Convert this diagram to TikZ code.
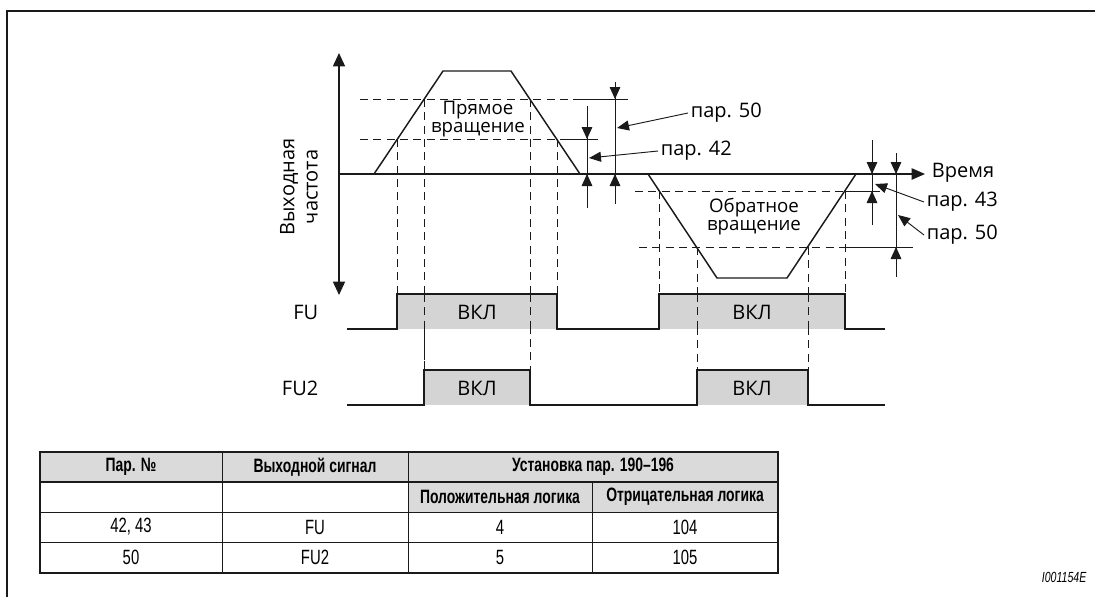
\documentclass[tikz,border=0pt]{standalone}
\usepackage{fontspec}
\setmainfont{Open Sans}
\newfontfamily\condfont[FakeStretch=0.72]{Liberation Sans}
\usetikzlibrary{arrows.meta}
\definecolor{ink}{HTML}{1A1A1A}
\definecolor{onfill}{HTML}{D4D4D4}
\definecolor{headfill}{HTML}{DADADA}

\begin{document}
\begin{tikzpicture}[
  x=0.75pt, y=-0.75pt,
  font=\fontsize{15}{14.5}\selectfont,
  frame/.style  = {draw=ink, line width=1.5pt},
  axis/.style   = {draw=ink, line width=1.1pt},
  tip/.style    = {-{Triangle[length=10pt,width=8.5pt]}},
  wave/.style   = {draw=ink, line width=1.1pt, line join=miter},
  guide/.style  = {draw=ink, line width=0.7pt, dash pattern=on 6pt off 4pt},
  dimln/.style  = {draw=ink, line width=0.7pt},
  dimarr/.style = {dimln, -{Triangle[length=9pt,width=8pt]}},
  lead/.style   = {dimln, -{Triangle[length=9pt,width=7.5pt]}},
  lbl/.style    = {anchor=west, inner sep=2pt},
  dirlbl/.style = {align=center, inner sep=0pt, font=\fontsize{14}{13.5}\selectfont},
  cell/.style   = {font=\condfont\fontsize{15.5}{16}\selectfont},
  hcell/.style  = {font=\condfont\bfseries\fontsize{14.5}{16}\selectfont},
]
\useasboundingbox (0,0) rectangle (1095,597);

% ---------- frame ----------
\draw[frame] (7,597) -- (7,11) -- (1095,11);

% ---------- axes ----------
\draw[axis, {Triangle[length=10pt,width=9pt]}-{Triangle[length=10pt,width=9pt]}] (339,295) -- (339,53);
\draw[axis, tip] (339,174) -- (925,174);
\node[rotate=90, align=center] (ylab) at (299,187) {Выходная\\[3pt]частота};
\node[lbl] (time) at (929,173) {Время};

% ---------- guide levels ----------
\draw[guide] (360,99) -- (575,99);
\draw[dimln] (575,99) -- (628,99);
\draw[guide] (360,139) -- (565,139);
\draw[dimln] (565,139) -- (598,139);
\draw[guide] (635,191) -- (845,191);
\draw[dimln] (845,191) -- (880,191);
\draw[guide] (639,247) -- (845,247);
\draw[dimln] (845,247) -- (913,247);

% ---------- output frequency ----------
\draw[wave] (374,174) -- (443,71) -- (511,71) -- (580,174);
\draw[wave] (648,174) -- (717,278) -- (787,278) -- (856,174);
\node[dirlbl] (fwd) at (478,119) {Прямое\\вращение};
\node[dirlbl] (rev) at (754,217) {Обратное\\вращение};

% ---------- switching points ----------
\draw[guide] (397,139) -- (397,294);
\draw[guide] (557,139) -- (557,294);
\draw[guide] (424,99) -- (424,370);
\draw[guide] (530,99) -- (530,370);
\draw[guide] (659,191) -- (659,294);
\draw[guide] (845,191) -- (845,294);
\draw[guide] (697,247) -- (697,370);
\draw[guide] (808,247) -- (808,370);

% ---------- FU / FU2 signals ----------
\fill[onfill] (397,294) rectangle (557,329);
\fill[onfill] (659,294) rectangle (845,329);
\fill[onfill] (424,370) rectangle (530,405);
\fill[onfill] (697,370) rectangle (808,405);
\draw[guide] (424,294) -- (424,370);
\draw[guide] (530,294) -- (530,329);
\draw[guide] (697,294) -- (697,329);
\draw[guide] (808,294) -- (808,329);
\draw[wave] (347,329) -- (397,329) -- (397,294) -- (557,294) -- (557,329)
  -- (659,329) -- (659,294) -- (845,294) -- (845,329) -- (885,329);
\draw[wave] (347,405) -- (424,405) -- (424,370) -- (530,370) -- (530,405)
  -- (697,405) -- (697,370) -- (808,370) -- (808,405) -- (885,405);
\node[anchor=east] (fu) at (323,312) {FU};
\node[anchor=east] (fu2) at (323,388) {FU2};
\node (on1) at (477,312) {ВКЛ};
\node (on2) at (752,312) {ВКЛ};
\node (on3) at (477,388) {ВКЛ};
\node (on4) at (752,388) {ВКЛ};

% ---------- dimension arrows ----------
\draw[dimln] (587,106) -- (587,208);
\draw[dimarr] (587,112) -- (587,139);
\draw[dimarr] (587,202) -- (587,174);
\draw[dimln] (615,82) -- (615,204);
\draw[dimarr] (615,84) -- (615,99);
\draw[dimarr] (615,198) -- (615,174);
\draw[dimln] (872,140) -- (872,225);
\draw[dimarr] (872,150) -- (872,174);
\draw[dimarr] (872,215) -- (872,191);
\draw[dimln] (896,153) -- (896,277);
\draw[dimarr] (896,155) -- (896,174);
\draw[dimarr] (896,271) -- (896,247);

\coordinate (t50a) at (617,128);
\coordinate (t42) at (589,158);
\coordinate (t43) at (875,184);
\coordinate (t50b) at (898,215);
\node[lbl] (p50a) at (688,113) {пар. 50};
\node[lbl] (p42) at (658,151) {пар. 42};
\node[lbl] (p43) at (924,202) {пар. 43};
\node[lbl] (p50b) at (924,235) {пар. 50};
\draw[lead] (p50a.west) -- (t50a);
\draw[lead] (p42.west) -- (t42);
\draw[lead] (p43.west) -- (t43);
\draw[lead] (p50b.west) -- (t50b);

% ---------- table ----------
\fill[headfill] (40,452) rectangle (778,482);
\fill[headfill] (408,482) rectangle (778,512);
\draw[dimln] (40,512) -- (778,512);
\draw[dimln] (40,542) -- (778,542);
\draw[dimln] (222,452) -- (222,573);
\draw[dimln] (408,452) -- (408,573);
\draw[dimln] (592,482) -- (592,573);
\draw[draw=ink, line width=1pt] (40,482) -- (778,482);
\draw[frame] (40,452) rectangle (778,573);

\node[hcell] (hpar) at (131,467) {Пар. №};
\node[hcell] (hsig) at (315,467) {Выходной сигнал};
\node[hcell] (hset) at (593,467) {Установка пар. 190–196};
\node[hcell] (hpos) at (500,497) {Положительная логика};
\node[hcell] (hneg) at (685,497) {Отрицательная логика};
\node[cell] (apar) at (131,527) {42, 43};
\node[cell] (asig) at (315,527) {FU};
\node[cell] (apos) at (500,527) {4};
\node[cell] (aneg) at (685,527) {104};
\node[cell] (bpar) at (131,557) {50};
\node[cell] (bsig) at (315,557) {FU2};
\node[cell] (bpos) at (500,557) {5};
\node[cell] (bneg) at (685,557) {105};

\node[anchor=east, font=\condfont\itshape\fontsize{11}{12}\selectfont] (fig) at (1091,577) {I001154E};

\end{tikzpicture}
\end{document}
